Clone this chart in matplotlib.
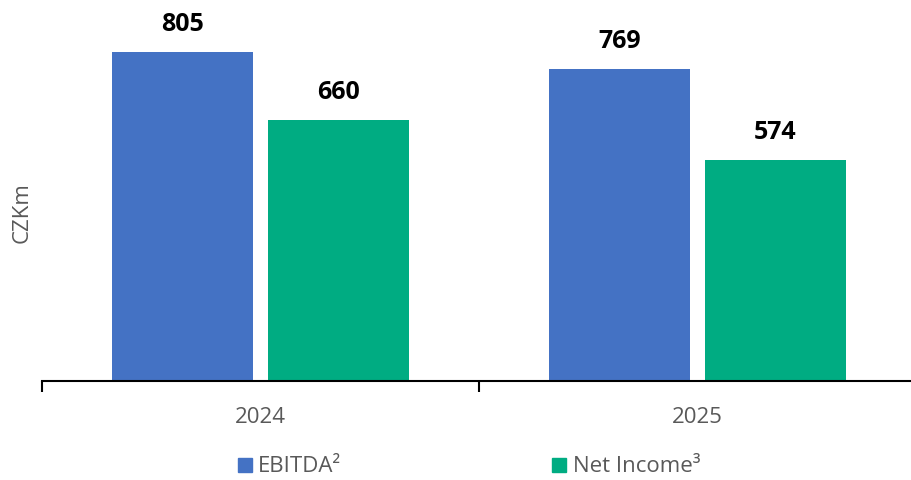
import numpy as np
import matplotlib
matplotlib.use("Agg")
import matplotlib.pyplot as plt
from matplotlib.lines import Line2D

plt.rcParams['font.family'] = ['Open Sans', 'Noto Sans', 'DejaVu Sans']

# data
years = ["2024", "2025"]
ebitda = [805, 769]
net_income = [660, 574]
series_names = ["EBITDA²", "Net Income³"]
colors = ["#4472C4", "#00AC82"]

fig = plt.figure(figsize=(9.12, 4.8), dpi=100)
ax = fig.add_axes([42 / 912, 99 / 480, 874 / 912, 373 / 480])

x = np.arange(len(years))
w = 0.322
off = 0.178
bars1 = ax.bar(x - off, ebitda, w, color=colors[0])
bars2 = ax.bar(x + off, net_income, w, color=colors[1])

for bars in (bars1, bars2):
    for b in bars:
        ax.annotate(f"{b.get_height():.0f}", (b.get_x() + b.get_width() / 2, b.get_height()),
                    xytext=(0, 11), textcoords="offset points", ha="center", va="bottom",
                    fontsize=18, fontweight="bold", color="black")

ax.set_ylim(100, 900)
ax.set_xlim(-0.5, 1.5)
ax.set_yticks([])
for s in ("top", "right", "left"):
    ax.spines[s].set_visible(False)
ax.spines["bottom"].set_linewidth(1.5)

ax.set_xticks(x)
ax.set_xticklabels(years, fontsize=16, color="#595959")
ax.tick_params(axis="x", which="major", length=0, pad=19)
ax.set_xticks([-0.5, 0.5, 1.5], minor=True)
ax.tick_params(axis="x", which="minor", length=8, width=1.5, direction="out")

fig.text(22 / 912, 1 - 213 / 480, "CZKm", rotation=90, fontsize=16, color="#595959",
         ha="center", va="center")

handles = [Line2D([], [], marker="s", linestyle="none", markersize=10, color=c) for c in colors]
fig.legend(handles, series_names, loc="center", bbox_to_anchor=(467 / 912, 1 - 467 / 480),
           ncol=2, frameon=False, fontsize=16, labelcolor="#595959",
           handletextpad=0.1, columnspacing=9.3, handlelength=1.0)

fig.savefig("out.png", dpi=100)
